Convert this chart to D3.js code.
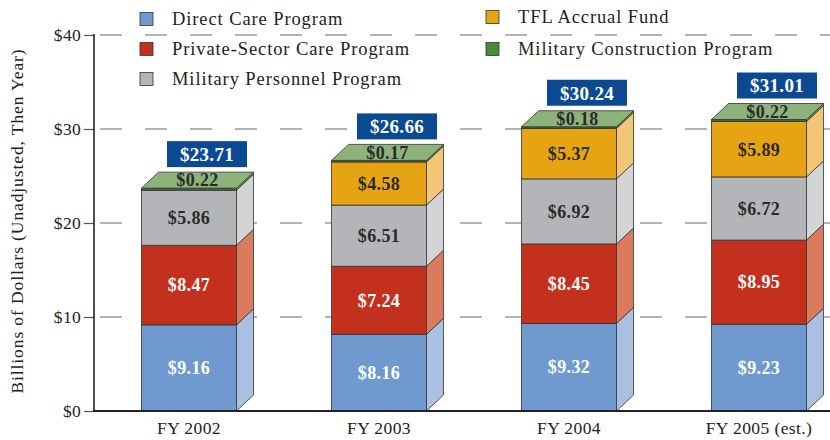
<!DOCTYPE html>
<html lang="en">
<head>
  <meta charset="utf-8">
  <title>MHS funding by program</title>
  <style>
body {
  margin: 0;
  background: #fff;
  font-family: "Liberation Serif", "DejaVu Serif", serif;
}
.tick text { font-family: "Liberation Serif", serif; fill: #222; }
  </style>
  <script src="https://d3js.org/d3.v7.min.js" charset="utf-8"></script>
</head>
<body>
<div id="chart"></div>
<script>

// data (billions of dollars)
var years = ["FY 2002", "FY 2003", "FY 2004", "FY 2005 (est.)"];
var programs = ["Direct Care Program", "Private-Sector Care Program", "Military Personnel Program",
                "TFL Accrual Fund", "Military Construction Program"];
var directCare = [9.16, 8.16, 9.32, 9.23];
var privateCare = [8.47, 7.24, 8.45, 8.95];
var milPersonnel = [5.86, 6.51, 6.92, 6.72];
var tflFund = [0, 4.58, 5.37, 5.89];
var milCon = [0.22, 0.17, 0.18, 0.22];
var totals = [23.71, 26.66, 30.24, 31.01];
var yTicks = [0, 10, 20, 30, 40];

var series = [directCare, privateCare, milPersonnel, tflFund, milCon];
var front = ["#7099d0", "#c3301e", "#b4b5b8", "#e6a414", "#3f6a30"];
var side  = ["#a9c0e3", "#d97b5c", "#d3d4d6", "#f3c677", "#6f9a5c"];
var legendCol = ["#7099d0", "#c3301e", "#b4b5b8", "#e6a414", "#4a8a3a"];
var textCol = ["#fff", "#fff", "#2a2a2a", "#2a2a2a", "#2a2a2a"];

var w = 830, h = 440;
var dx = 17, dy = -16;

var svg = d3.select('#chart').append('svg')
  .attr('width', w)
  .attr('height', h);

var x = d3.scaleBand().domain(years).range([94, 854]).paddingInner(0.5).paddingOuter(0.25);
var y = d3.scaleLinear().domain([0, 40]).range([411, 35]);

// dashed gridlines
svg.selectAll('line.grid')
  .data(yTicks.slice(1))
  .enter().append('line')
  .attr('class', 'grid')
  .attr('x1', 100).attr('x2', w)
  .attr('y1', function(d) { return y(d); })
  .attr('y2', function(d) { return y(d); })
  .attr('stroke', '#9a9a9a')
  .attr('stroke-width', 1.5)
  .attr('stroke-dasharray', '22,23');

// y axis
var yAxis = d3.axisLeft(y)
  .tickValues(yTicks)
  .tickSize(10)
  .tickPadding(3)
  .tickFormat(function(d) { return '$' + d; });

var gy = svg.append('g').attr('transform', 'translate(94,0)').call(yAxis);
gy.select('.domain').remove();
gy.selectAll('.tick line').attr('stroke', '#555').attr('stroke-width', 1.2);
gy.selectAll('.tick text').style('font-size', '17.5px').style('letter-spacing', '0.3px');

svg.append('line')
  .attr('x1', 94).attr('x2', 94)
  .attr('y1', y(40) - 1).attr('y2', y(0))
  .attr('stroke', '#222').attr('stroke-width', 1.6);

svg.append('text')
  .attr('transform', 'translate(23,' + 221 + ') rotate(-90)')
  .attr('text-anchor', 'middle')
  .style('font-size', '17.5px')
  .style('letter-spacing', '0.9px')
  .attr('fill', '#222')
  .text('Billions of Dollars (Unadjusted, Then Year)');

// x axis labels
var xAxis = d3.axisBottom(x).tickSize(0).tickPadding(11);
var gx = svg.append('g').attr('transform', 'translate(0,' + y(0) + ')').call(xAxis);
gx.select('.domain').remove();
gx.selectAll('.tick text').style('font-size', '17.5px').style('letter-spacing', '0.4px');

// bars
years.forEach(function(yr, i) {
  var g = svg.append('g');
  var x0 = x(yr), x1 = x0 + x.bandwidth();
  var base = 0;
  series.forEach(function(s, k) {
    var v = s[i];
    if (!v) return;
    var yb = y(base), yt = y(base + v);
    g.append('rect')
      .attr('x', x0).attr('y', yt)
      .attr('width', x.bandwidth()).attr('height', yb - yt)
      .attr('fill', front[k])
      .attr('stroke', '#333').attr('stroke-width', 0.8);
    g.append('path')
      .attr('d', 'M' + x1 + ',' + yt + 'L' + (x1 + dx) + ',' + (yt + dy) +
                 'L' + (x1 + dx) + ',' + (yb + dy) + 'L' + x1 + ',' + yb + 'Z')
      .attr('fill', side[k])
      .attr('stroke', '#333').attr('stroke-width', 0.8);
    if (k < 4) {
      g.append('text')
        .attr('x', x0 + x.bandwidth() / 2)
        .attr('y', (yb + yt) / 2)
        .attr('dy', '0.35em')
        .attr('text-anchor', 'middle')
        .style('font-size', '18px')
        .style('font-weight', 'bold')
        .style('letter-spacing', '0.4px')
        .attr('fill', textCol[k])
        .text('$' + v.toFixed(2));
    }
    base += v;
  });
  // top face
  var ytop = y(base);
  g.append('path')
    .attr('d', 'M' + x0 + ',' + ytop + 'L' + (x0 + dx) + ',' + (ytop + dy) +
               'L' + (x1 + dx) + ',' + (ytop + dy) + 'L' + x1 + ',' + ytop + 'Z')
    .attr('fill', '#8db27a')
    .attr('stroke', '#333').attr('stroke-width', 0.8);
  g.append('text')
    .attr('x', x0 + x.bandwidth() / 2 + dx / 2)
    .attr('y', ytop + dy / 2)
    .attr('dy', '0.35em')
    .attr('text-anchor', 'middle')
    .style('font-size', '18px')
    .style('font-weight', 'bold')
    .style('letter-spacing', '0.4px')
    .attr('fill', '#2a2a2a')
    .text('$' + milCon[i].toFixed(2));

  // total box
  var cx = x0 + x.bandwidth() / 2 + 18;
  var by = y(totals[i]) + dy - 5;
  g.append('rect')
    .attr('x', cx - 40).attr('y', by - 26)
    .attr('width', 80).attr('height', 26)
    .attr('fill', '#0b4a92');
  g.append('text')
    .attr('x', cx).attr('y', by - 13)
    .attr('dy', '0.36em')
    .attr('text-anchor', 'middle')
    .style('font-size', '19px')
    .style('font-weight', 'bold')
    .style('letter-spacing', '0.3px')
    .attr('fill', '#fff')
    .text('$' + totals[i].toFixed(2));
});

// bottom axis line
svg.append('line')
  .attr('x1', 93).attr('x2', w)
  .attr('y1', y(0)).attr('y2', y(0))
  .attr('stroke', '#222').attr('stroke-width', 2);

// legend
var legendPos = [[140, 19], [140, 49], [140, 79], [486, 17], [486, 49]];
var leg = svg.selectAll('g.legend')
  .data(programs)
  .enter().append('g')
  .attr('class', 'legend')
  .attr('transform', function(d, i) { return 'translate(' + legendPos[i][0] + ',' + legendPos[i][1] + ')'; });
leg.append('rect')
  .attr('x', 0).attr('y', -6.5)
  .attr('width', 13).attr('height', 13)
  .attr('fill', function(d, i) { return legendCol[i]; })
  .attr('stroke', '#333').attr('stroke-width', 0.8);
leg.append('text')
  .attr('x', 32).attr('y', 0)
  .attr('dy', '0.35em')
  .style('font-size', '18.5px')
  .style('letter-spacing', '0.9px')
  .attr('fill', '#222')
  .text(function(d) { return d; });

</script>
</body>
</html>
